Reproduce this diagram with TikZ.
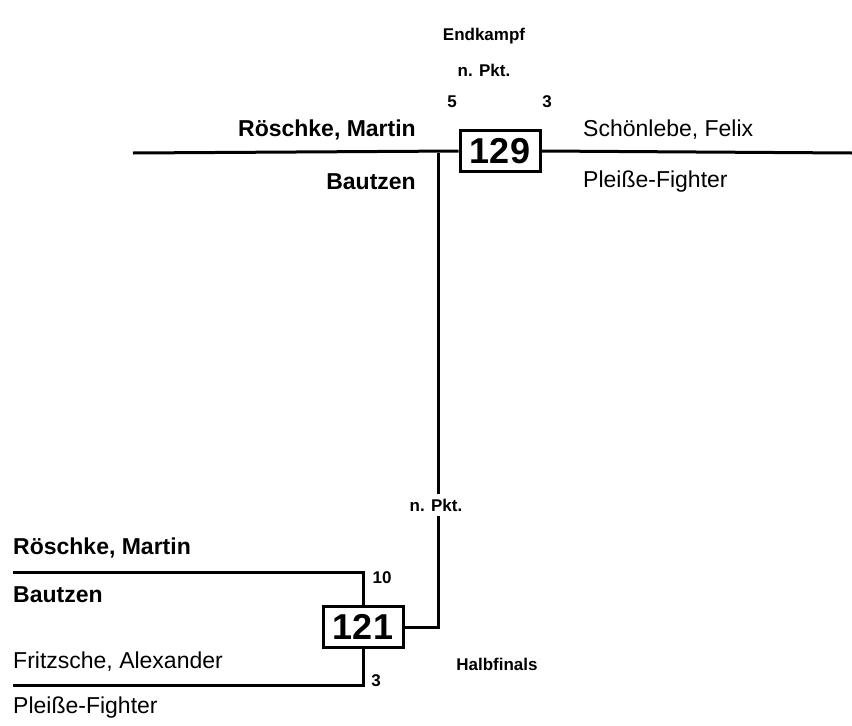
\documentclass[tikz,border=0pt]{standalone}
\usepackage{fontspec}
\setmainfont{Liberation Sans}
\usetikzlibrary{positioning}

\begin{document}
\begin{tikzpicture}[x=1pt, y=-1pt]
% We define the styles for the boxes, the lines and the texts
 \tikzset{
fightbox/.style = {draw, rectangle, line width=3pt, minimum width=80pt, minimum height=41pt, inner sep=0pt, font=\fontsize{36}{40}\selectfont\bfseries},
line/.style = {draw, line width=3pt},
plainlabel/.style = {inner sep=0pt, font=\fontsize{23}{26}\selectfont},
boldlabel/.style = {inner sep=0pt, font=\fontsize{23}{26}\selectfont\bfseries},
infolabel/.style = {inner sep=0pt, font=\fontsize{17}{20}\selectfont\bfseries},
}
\useasboundingbox (0,0) rectangle (852,726);

 % Final fight
 \node [infolabel] (final) at (484,36) {Endkampf};
 \node [infolabel] (finalpts) at (484,70) {n. Pkt.};
 \node [fightbox] (fight129) at (500,151) {129};
 \node [infolabel] (score5) at (452,102) {5};
 \node [infolabel] (score3) at (547,102) {3};
 \node [boldlabel, anchor=east] (redname) at (416,130) {Röschke, Martin};
 \node [boldlabel, anchor=east] (redclub) at (416,182) {Bautzen};
 \node [plainlabel, anchor=west] (bluename) at (583,130) {Schönlebe, Felix};
 \node [plainlabel, anchor=west] (blueclub) at (583,182) {Pleiße-Fighter};
 \coordinate (redstart) at (133,153);
 \coordinate (blueend) at (852,153);
 \coordinate (branch) at (438,153);

 % Semifinal
 \node [infolabel] (semipts) at (436,505) {n. Pkt.};
 \node [fightbox] (fight121) at (363,627) {121};
 \node [infolabel] (score10) at (382,578) {10};
 \node [infolabel] (score3b) at (376,681) {3};
 \node [infolabel] (semi) at (497,664) {Halbfinals};
 \node [boldlabel, anchor=west] (semired) at (13,548) {Röschke, Martin};
 \node [boldlabel, anchor=west] (semiredclub) at (13,595) {Bautzen};
 \node [plainlabel, anchor=west] (semiblue) at (13,662) {Fritzsche, Alexander};
 \node [plainlabel, anchor=west] (semiblueclub) at (13,708) {Pleiße-Fighter};
 \coordinate (topstart) at (13,572);
 \coordinate (bottomstart) at (13,685);

 % Lines
 \draw [line] (redstart) -- (fight129.west);
 \draw [line] (fight129.east) -- (blueend);
 \draw [line] (branch) -- ([yshift=5pt]semipts.north -| branch);
 \draw [line] ([yshift=-5pt]semipts.south -| branch) |- (fight121.east);
 \draw [line] (topstart) -| (fight121.north);
 \draw [line] (bottomstart) -| (fight121.south);

\end{tikzpicture}
\end{document}
